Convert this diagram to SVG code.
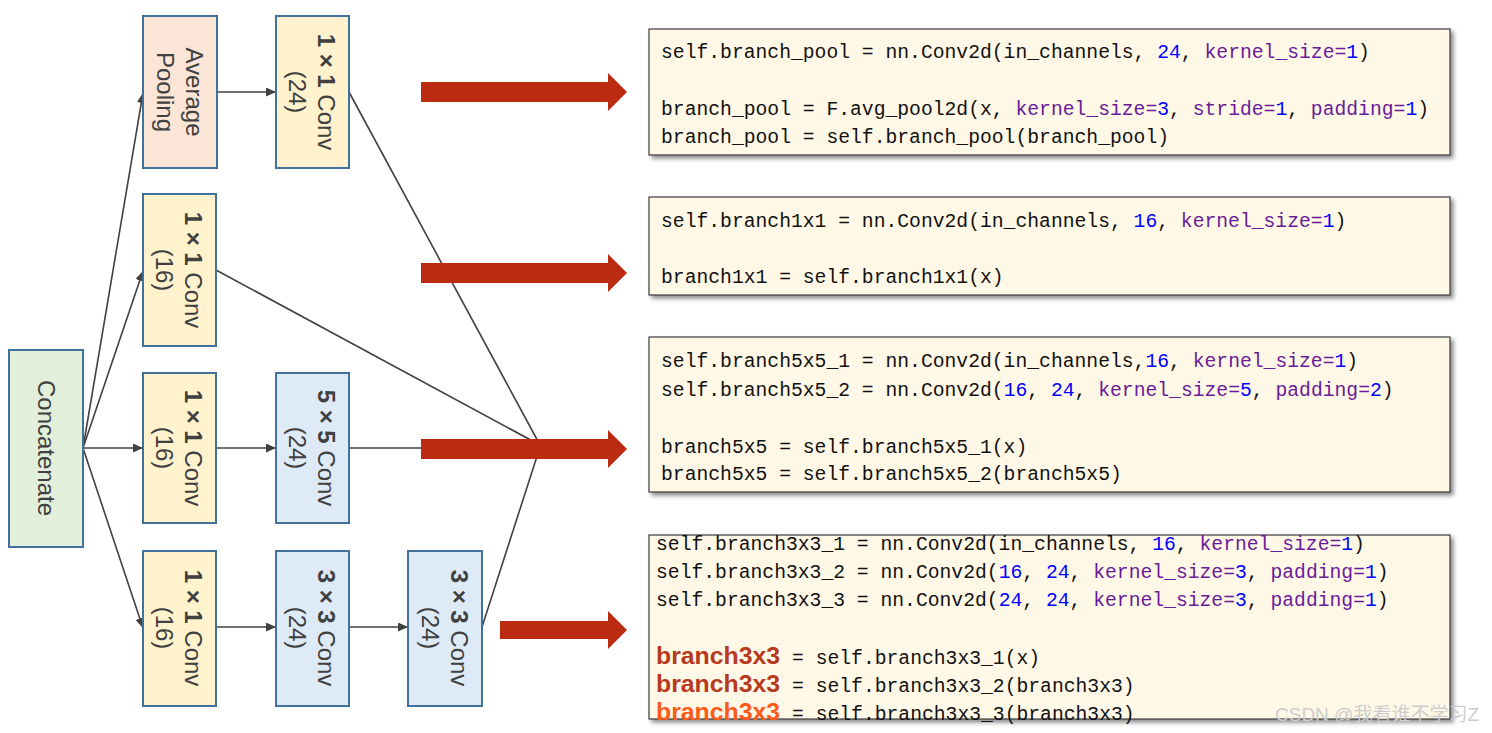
<svg xmlns="http://www.w3.org/2000/svg" width="1492" height="733" viewBox="0 0 1492 733">
<style>
.node{stroke:#41719c;stroke-width:2}
.yel{fill:#fff2cc}.pk{fill:#fbe5d6}.bl{fill:#deebf7}.gr{fill:#e2efda}
.nt{font-family:"Liberation Sans","Noto Sans",sans-serif;font-size:24px;fill:#404040;text-anchor:middle}
.b{font-weight:bold}
.con{stroke:#404040;stroke-width:1.6;fill:none}
.red{fill:#ba2b11}
.code{fill:#fff8e6;stroke:#3a3a3a;stroke-width:1.2}
.ct{font-family:"Liberation Mono","DejaVu Sans Mono",monospace;font-size:19.7px;fill:#111}
.n{fill:#0000ff}.k{fill:#6a1b9a}
.hb{font-family:"Liberation Sans","Noto Sans",sans-serif;font-weight:bold;font-size:24px}
.wm{font-family:"Liberation Sans","Noto Sans CJK SC",sans-serif;font-size:19px;fill:#cdcdcd}
</style>
<defs>
<marker id="ah" markerUnits="userSpaceOnUse" markerWidth="11" markerHeight="10" refX="10" refY="4.5" orient="auto"><path d="M0,0 L10,4.5 L0,9 z" fill="#404040"/></marker>
<filter id="sh" x="-5%" y="-10%" width="110%" height="130%"><feDropShadow dx="3" dy="3" stdDeviation="2" flood-color="#000" flood-opacity="0.45"/></filter>
</defs>

<g id="connectors">
<line class="con" x1="83" y1="448" x2="143" y2="93" marker-end="url(#ah)"/>
<line class="con" x1="83" y1="448" x2="143" y2="271" marker-end="url(#ah)"/>
<line class="con" x1="83" y1="448" x2="143" y2="448" marker-end="url(#ah)"/>
<line class="con" x1="83" y1="448" x2="143" y2="628" marker-end="url(#ah)"/>
<line class="con" x1="217" y1="92" x2="276" y2="92" marker-end="url(#ah)"/>
<line class="con" x1="216" y1="448" x2="276" y2="448" marker-end="url(#ah)"/>
<line class="con" x1="216" y1="627" x2="276" y2="627" marker-end="url(#ah)"/>
<line class="con" x1="349" y1="627" x2="408" y2="627" marker-end="url(#ah)"/>
<line class="con" x1="349" y1="92" x2="540" y2="445"/>
<line class="con" x1="216" y1="270" x2="540" y2="445"/>
<line class="con" x1="349" y1="448" x2="540" y2="448"/>
<line class="con" x1="482" y1="627" x2="540" y2="447"/>
</g>

<g id="n-avgpool">
<rect class="node pk" x="143" y="16" width="74" height="152"/>
<g transform="rotate(90 180 92)"><text class="nt" x="180" y="86.5">Average</text><text class="nt" x="180" y="115.5">Pooling</text></g>
</g>
<g id="n-conv1x1-24">
<rect class="node yel" x="276" y="16" width="73" height="152"/>
<g transform="rotate(90 312.5 92)"><text class="nt" x="312.5" y="86.5"><tspan class="b">1 × 1</tspan> Conv</text><text class="nt" x="312.5" y="115.5">(24)</text></g>
</g>
<g id="n-conv1x1-b2">
<rect class="node yel" x="143" y="194" width="73" height="152"/>
<g transform="rotate(90 179.5 270)"><text class="nt" x="179.5" y="264.5"><tspan class="b">1 × 1</tspan> Conv</text><text class="nt" x="179.5" y="293.5">(16)</text></g>
</g>
<g id="n-concat">
<rect class="node gr" x="9" y="350" width="74" height="197"/>
<g transform="rotate(90 46 448)"><text class="nt" x="46" y="456.5">Concatenate</text></g>
</g>
<g id="n-conv1x1-b3">
<rect class="node yel" x="143" y="373" width="73" height="150"/>
<g transform="rotate(90 179.5 448)"><text class="nt" x="179.5" y="442.5"><tspan class="b">1 × 1</tspan> Conv</text><text class="nt" x="179.5" y="471.5">(16)</text></g>
</g>
<g id="n-conv5x5">
<rect class="node bl" x="276" y="373" width="73" height="150"/>
<g transform="rotate(90 312.5 448)"><text class="nt" x="312.5" y="442.5"><tspan class="b">5 × 5</tspan> Conv</text><text class="nt" x="312.5" y="471.5">(24)</text></g>
</g>
<g id="n-conv1x1-b4">
<rect class="node yel" x="143" y="551" width="73" height="155"/>
<g transform="rotate(90 179.5 628)"><text class="nt" x="179.5" y="622.5"><tspan class="b">1 × 1</tspan> Conv</text><text class="nt" x="179.5" y="651.5">(16)</text></g>
</g>
<g id="n-conv3x3-a">
<rect class="node bl" x="276" y="551" width="73" height="155"/>
<g transform="rotate(90 312.5 628)"><text class="nt" x="312.5" y="622.5"><tspan class="b">3 × 3</tspan> Conv</text><text class="nt" x="312.5" y="651.5">(24)</text></g>
</g>
<g id="n-conv3x3-b">
<rect class="node bl" x="408" y="551" width="74" height="155"/>
<g transform="rotate(90 445 628)"><text class="nt" x="445" y="622.5"><tspan class="b">3 × 3</tspan> Conv</text><text class="nt" x="445" y="651.5">(24)</text></g>
</g>

<g id="red-arrows">
<polygon class="red" points="421,82 608,82 608,73 627,92 608,111 608,102 421,102"/>
<polygon class="red" points="421,263 608,263 608,254 627,273 608,292 608,283 421,283"/>
<polygon class="red" points="421,439 608,439 608,430 627,449 608,468 608,459 421,459"/>
<polygon class="red" points="500,621 608,621 608,611 627,630 608,649 608,639 500,639"/>
</g>

<g id="code-pool">
<rect class="code" filter="url(#sh)" x="649" y="29" width="801" height="126"/>
<text class="ct" x="661" y="58">self.branch_pool = nn.Conv2d(in_channels, <tspan class="n">24</tspan>, <tspan class="k">kernel_size=</tspan><tspan class="n">1</tspan>)</text>
<text class="ct" x="661" y="115">branch_pool = F.avg_pool2d(x, <tspan class="k">kernel_size=</tspan><tspan class="n">3</tspan>, <tspan class="k">stride=</tspan><tspan class="n">1</tspan>, <tspan class="k">padding=</tspan><tspan class="n">1</tspan>)</text>
<text class="ct" x="661" y="143">branch_pool = self.branch_pool(branch_pool)</text>
</g>
<g id="code-1x1">
<rect class="code" filter="url(#sh)" x="649" y="197" width="801" height="98"/>
<text class="ct" x="661" y="227">self.branch1x1 = nn.Conv2d(in_channels, <tspan class="n">16</tspan>, <tspan class="k">kernel_size=</tspan><tspan class="n">1</tspan>)</text>
<text class="ct" x="661" y="283">branch1x1 = self.branch1x1(x)</text>
</g>
<g id="code-5x5">
<rect class="code" filter="url(#sh)" x="649" y="337" width="801" height="155"/>
<text class="ct" x="661" y="367">self.branch5x5_1 = nn.Conv2d(in_channels,<tspan class="n">16</tspan>, <tspan class="k">kernel_size=</tspan><tspan class="n">1</tspan>)</text>
<text class="ct" x="661" y="396">self.branch5x5_2 = nn.Conv2d(<tspan class="n">16</tspan>, <tspan class="n">24</tspan>, <tspan class="k">kernel_size=</tspan><tspan class="n">5</tspan>, <tspan class="k">padding=</tspan><tspan class="n">2</tspan>)</text>
<text class="ct" x="661" y="453">branch5x5 = self.branch5x5_1(x)</text>
<text class="ct" x="661" y="480">branch5x5 = self.branch5x5_2(branch5x5)</text>
</g>
<g id="code-3x3">
<rect class="code" filter="url(#sh)" x="649" y="535" width="801" height="184"/>
<text class="ct" x="656" y="550">self.branch3x3_1 = nn.Conv2d(in_channels, <tspan class="n">16</tspan>, <tspan class="k">kernel_size=</tspan><tspan class="n">1</tspan>)</text>
<text class="ct" x="656" y="578">self.branch3x3_2 = nn.Conv2d(<tspan class="n">16</tspan>, <tspan class="n">24</tspan>, <tspan class="k">kernel_size=</tspan><tspan class="n">3</tspan>, <tspan class="k">padding=</tspan><tspan class="n">1</tspan>)</text>
<text class="ct" x="656" y="606">self.branch3x3_3 = nn.Conv2d(<tspan class="n">24</tspan>, <tspan class="n">24</tspan>, <tspan class="k">kernel_size=</tspan><tspan class="n">3</tspan>, <tspan class="k">padding=</tspan><tspan class="n">1</tspan>)</text>
<text class="hb" x="656" y="664" fill="#b8391d" textLength="124" lengthAdjust="spacingAndGlyphs">branch3x3</text>
<text class="ct" x="792" y="664">= self.branch3x3_1(x)</text>
<text class="hb" x="656" y="692" fill="#b8391d" textLength="124" lengthAdjust="spacingAndGlyphs">branch3x3</text>
<text class="ct" x="792" y="692">= self.branch3x3_2(branch3x3)</text>
<text class="hb" x="656" y="720" fill="#ff5a1a" textLength="124" lengthAdjust="spacingAndGlyphs">branch3x3</text>
<text class="ct" x="792" y="720">= self.branch3x3_3(branch3x3)</text>
</g>

<text class="wm" x="1275" y="721">CSDN @我看谁不学习Z</text>
</svg>
